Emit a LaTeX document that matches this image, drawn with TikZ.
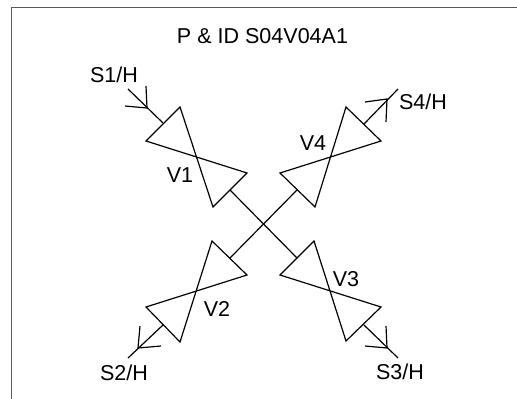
\documentclass[tikz,border=0pt]{standalone}
\usepackage{fontspec}
\setmainfont{Liberation Sans}
\tikzset{
  pipe/.style={line width=0.85pt,black},
  valve/.style={line width=0.85pt,black,line join=miter},
  sheet/.style={line width=0.8pt,black!65},
  tag/.style={anchor=base,inner sep=0pt,font=\fontsize{15.3pt}{18pt}\selectfont}
}
\begin{document}
\begin{tikzpicture}[x=0.025cm,y=-0.025cm]
    \useasboundingbox (0,0) rectangle (517,399);
    \draw[sheet] (11.5,399) -- (11.5,7.5) -- (517,7.5);
    \node[tag] (title) at (262.5,44) {P \& ID S04V04A1};
    % valves
    \draw[valve] (180,107) -- (213,207) -- (247,173) -- (146,141) -- cycle;
    \draw[valve] (346,107) -- (315,207) -- (280,173) -- (381,141) -- cycle;
    \draw[valve] (212,241) -- (180,342) -- (146,307) -- (247,275) -- cycle;
    \draw[valve] (314,241) -- (346,341) -- (381,307) -- (280,275) -- cycle;
    \node[tag] (v1) at (180,183) {V1};
    \node[tag] (v2) at (217,316) {V2};
    \node[tag] (v3) at (346,286) {V3};
    \node[tag] (v4) at (313,151) {V4};
    % ports of the valves
    \coordinate (v1in) at (163,123);
    \coordinate (v1out) at (230,190);
    \coordinate (v2in) at (230,258);
    \coordinate (v2out) at (163,325);
    \coordinate (v3in) at (297,258);
    \coordinate (v3out) at (364,325);
    \coordinate (v4in) at (297,190);
    \coordinate (v4out) at (364,124);
    % free ends of the streams
    \coordinate (s1) at (128,89);
    \coordinate (s2) at (128,358);
    \coordinate (s3) at (398,358);
    \coordinate (s4) at (398,89);
    \node[tag] (s1h) at (114,83) {S1/H};
    \node[tag] (s2h) at (124,380) {S2/H};
    \node[tag] (s3h) at (400,379) {S3/H};
    \node[tag] (s4h) at (423,110) {S4/H};
    % connectors
    \draw[pipe] (s1) -- (v1in);
    \draw[pipe] (v2out) -- (s2);
    \draw[pipe] (v3out) -- (s3);
    \draw[pipe] (v4out) -- (s4);
    \draw[pipe] (v1out) -- (v3in);
    \draw[pipe] (v4in) -- (v2in);
    % arrow barbs
    \draw[pipe] (146,86) -- (147,108) -- (125,106);
    \draw[pipe] (140,326) -- (138,348) -- (161,346);
    \draw[pipe] (386,326) -- (387,348) -- (365,346);
    \draw[pipe] (365,102) -- (387,99) -- (386,122);
\end{tikzpicture}
\end{document}
